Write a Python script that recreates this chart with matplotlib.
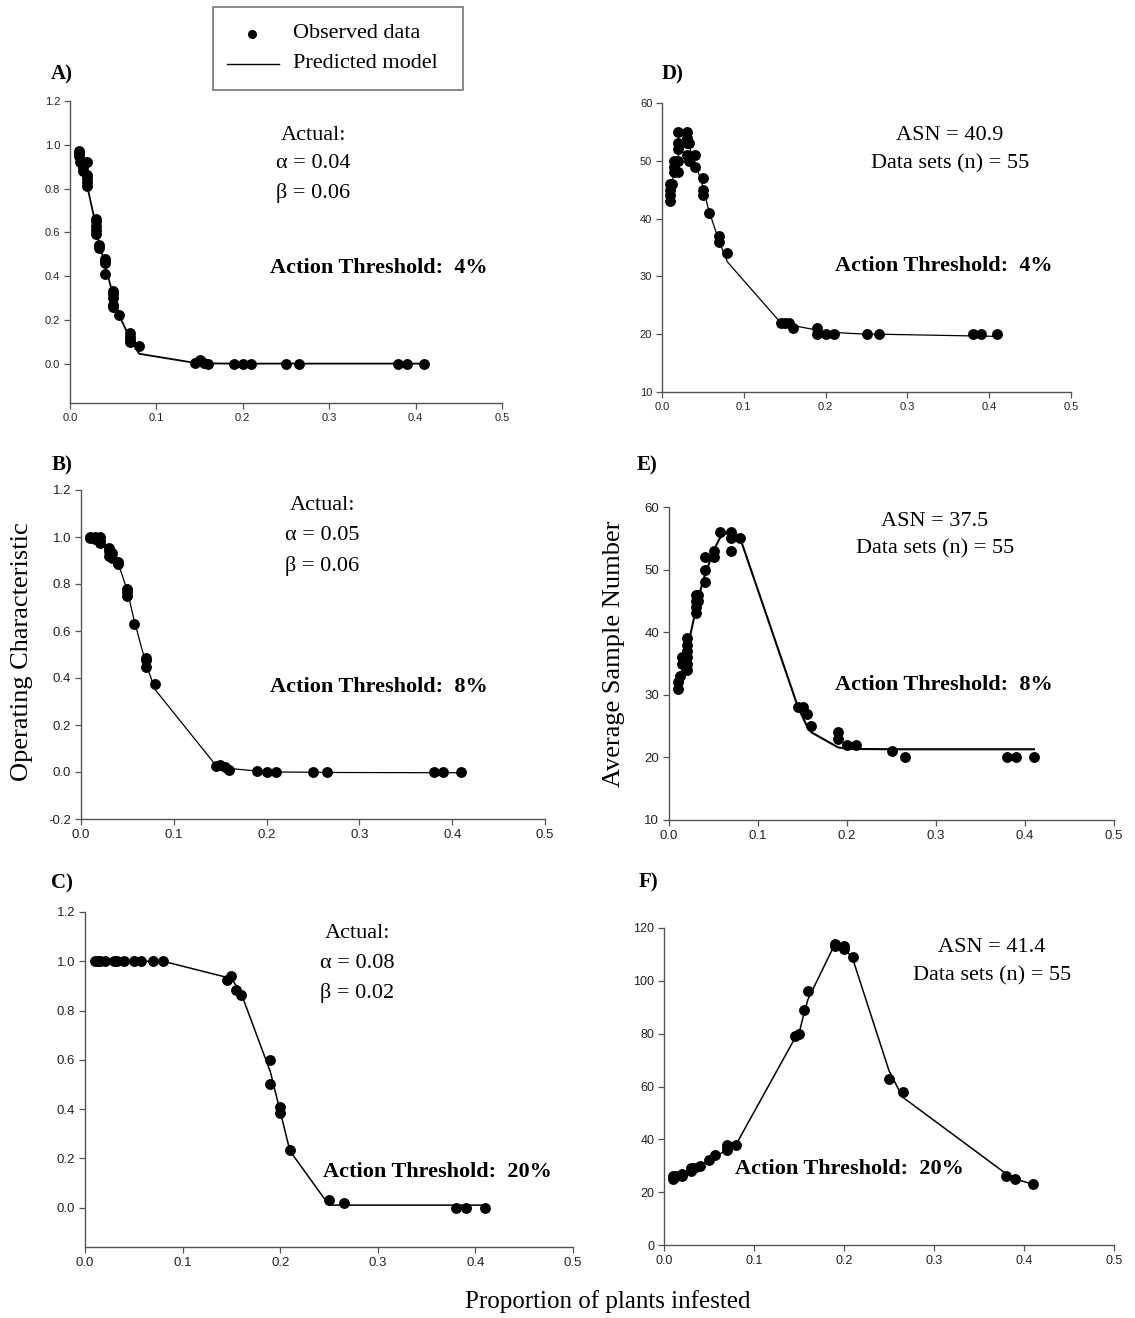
import matplotlib
matplotlib.use("Agg")
import matplotlib.pyplot as plt
from matplotlib.lines import Line2D
from matplotlib.patches import Rectangle

W, H = 1135, 1318

# x values of the model nodes (same for every panel)
x_model = [0.01, 0.015, 0.02, 0.03, 0.033, 0.04, 0.05, 0.057, 0.07, 0.08,
           0.145, 0.15, 0.155, 0.16, 0.19, 0.2, 0.21, 0.25, 0.265, 0.38, 0.39, 0.41]

# A) operating characteristic, threshold 4%
a_x = [0.01, 0.01, 0.01, 0.012, 0.015, 0.015, 0.015, 0.02, 0.02, 0.02, 0.02, 0.02,
       0.03, 0.03, 0.03, 0.03, 0.03, 0.033, 0.033, 0.04, 0.04, 0.04, 0.04,
       0.05, 0.05, 0.05, 0.05, 0.05, 0.057, 0.07, 0.07, 0.07, 0.07, 0.08,
       0.145, 0.15, 0.155, 0.16, 0.19, 0.2, 0.21, 0.25, 0.265, 0.38, 0.39, 0.41]
a_y = [0.97, 0.96, 0.95, 0.92, 0.92, 0.90, 0.88, 0.92, 0.86, 0.85, 0.83, 0.81,
       0.66, 0.65, 0.63, 0.61, 0.59, 0.54, 0.53, 0.48, 0.47, 0.46, 0.41,
       0.33, 0.32, 0.30, 0.27, 0.26, 0.22, 0.14, 0.12, 0.11, 0.10, 0.08,
       0.005, 0.015, 0.005, 0.0, 0.0, 0.0, 0.0, 0.0, 0.0, 0.0, 0.0, 0.0]
a_model = [0.97, 0.90, 0.81, 0.63, 0.56, 0.46, 0.31, 0.22, 0.11, 0.045,
           0.003, 0.002, 0.001, 0.001, 0.0, 0.0, 0.0, 0.0, 0.0, 0.0, 0.0, 0.0]

# B) operating characteristic, threshold 8%
b_x = [0.01, 0.01, 0.015, 0.015, 0.02, 0.02, 0.02, 0.03, 0.03, 0.03, 0.033, 0.033,
       0.04, 0.04, 0.05, 0.05, 0.05, 0.057, 0.07, 0.07, 0.07, 0.08,
       0.145, 0.15, 0.155, 0.16, 0.19, 0.2, 0.21, 0.25, 0.265, 0.38, 0.39, 0.41]
b_y = [1.0, 0.995, 1.0, 0.99, 1.0, 0.985, 0.975, 0.955, 0.94, 0.92, 0.93, 0.91,
       0.895, 0.885, 0.78, 0.765, 0.75, 0.63, 0.485, 0.475, 0.445, 0.375,
       0.025, 0.03, 0.02, 0.01, 0.005, 0.0, 0.0, 0.0, 0.0, 0.0, 0.0, 0.0]
b_model = [1.0, 0.995, 0.99, 0.95, 0.93, 0.89, 0.77, 0.65, 0.46, 0.35,
           0.03, 0.025, 0.02, 0.015, 0.004, 0.0, 0.0, -0.001, -0.002, -0.003, -0.003, -0.003]

# C) operating characteristic, threshold 20%
c_x = [0.01, 0.013, 0.015, 0.02, 0.03, 0.033, 0.04, 0.05, 0.057, 0.07, 0.08,
       0.145, 0.15, 0.155, 0.16, 0.19, 0.19, 0.2, 0.2, 0.21,
       0.25, 0.265, 0.38, 0.39, 0.41]
c_y = [1.0, 1.0, 1.0, 1.0, 1.0, 1.0, 1.0, 1.0, 1.0, 1.0, 1.0,
       0.925, 0.94, 0.885, 0.865, 0.6, 0.5, 0.41, 0.385, 0.235,
       0.03, 0.02, 0.0, 0.0, 0.0]
c_model = [1.0, 1.0, 1.0, 1.0, 1.0, 1.0, 1.0, 1.0, 1.0, 1.0,
           0.935, 0.93, 0.9, 0.87, 0.55, 0.39, 0.23, 0.01, 0.01, 0.01, 0.01, 0.01]

# D) average sample number, threshold 4%
d_x = [0.01, 0.01, 0.01, 0.01, 0.012, 0.015, 0.015, 0.015, 0.02, 0.02, 0.02, 0.02, 0.02,
       0.03, 0.03, 0.03, 0.03, 0.033, 0.033, 0.04, 0.04, 0.05, 0.05, 0.05, 0.057,
       0.07, 0.07, 0.08, 0.145, 0.15, 0.155, 0.16, 0.19, 0.19, 0.2, 0.21,
       0.25, 0.265, 0.38, 0.39, 0.41]
d_y = [46, 45, 44, 43, 46, 50, 49, 48, 55, 53, 52, 50, 48,
       55, 54, 53, 51, 53, 50, 51, 49, 47, 45, 44, 41,
       37, 36, 34, 22, 22, 22, 21, 21, 20, 20, 20,
       20, 20, 20, 20, 20]
d_model = [45, 48, 51, 53, 52.5, 50, 45.5, 41.5, 36, 32.5,
           22, 21.9, 21.7, 21.5, 20.7, 20.4, 20.3, 20.0, 20.0, 19.7, 19.7, 19.6]

# E) average sample number, threshold 8%
e_x = [0.01, 0.01, 0.012, 0.015, 0.015, 0.02, 0.02, 0.02, 0.02, 0.02, 0.02,
       0.03, 0.03, 0.03, 0.03, 0.033, 0.033, 0.04, 0.04, 0.04, 0.05, 0.05, 0.057,
       0.07, 0.07, 0.07, 0.08, 0.145, 0.15, 0.155, 0.16, 0.19, 0.19, 0.2, 0.21,
       0.25, 0.265, 0.38, 0.39, 0.41]
e_y = [32, 31, 33, 36, 35, 39, 38, 37, 36, 35, 34,
       46, 45, 44, 43, 46, 45, 52, 50, 48, 53, 52, 56,
       56, 55, 53, 55, 28, 28, 27, 25, 24, 23, 22, 22,
       21, 20, 20, 20, 20]
e_model = [31.5, 34, 37, 43.5, 45.5, 49, 53, 55, 56.5, 55,
           28, 26.5, 25, 24, 21.6, 21.4, 21.35, 21.3, 21.3, 21.3, 21.3, 21.3]

# F) average sample number, threshold 20%
f_x = [0.01, 0.01, 0.013, 0.02, 0.02, 0.03, 0.03, 0.033, 0.04, 0.05, 0.057,
       0.07, 0.07, 0.07, 0.08, 0.145, 0.15, 0.155, 0.16, 0.19, 0.19, 0.2, 0.2, 0.21,
       0.25, 0.265, 0.38, 0.39, 0.41]
f_y = [25, 26, 26, 26, 27, 28, 29, 29, 30, 32, 34,
       36, 37, 38, 38, 79, 80, 89, 96, 113, 114, 112, 113, 109,
       63, 58, 26, 25, 23]
f_model = [25, 26, 26.5, 28.5, 29, 30, 32, 33.5, 36, 38,
           78, 80, 87, 93, 114, 113, 108, 66, 56, 27, 25, 23]

x_ticks = [0.0, 0.1, 0.2, 0.3, 0.4, 0.5]

SERIF = "Liberation Serif"
SANS = "Liberation Sans"


def P(x, y):
    return x / W, 1 - y / H


def make_axes(fig, left, right, top, bottom):
    return fig.add_axes([left / W, 1 - bottom / H, (right - left) / W, (bottom - top) / H])


def style(ax, ylim, yticks, ylabels, fs):
    ax.set_xlim(0, 0.5)
    ax.set_ylim(*ylim)
    ax.set_xticks(x_ticks)
    ax.set_xticklabels([f"{t:.1f}" for t in x_ticks])
    ax.set_yticks(yticks)
    ax.set_yticklabels(ylabels)
    for s in ["top", "right"]:
        ax.spines[s].set_visible(False)
    for s in ["left", "bottom"]:
        ax.spines[s].set_color("#555555")
        ax.spines[s].set_linewidth(1.0)
    ax.tick_params(direction="out", length=4, width=0.9, color="#555555",
                   labelcolor="#222222", labelsize=fs, pad=3)
    for lab in ax.get_xticklabels() + ax.get_yticklabels():
        lab.set_fontfamily(SANS)
    ax.patch.set_alpha(0)


def draw(ax, xs, ys, model, lw=1.0):
    ax.plot(x_model, model, color="black", lw=lw, zorder=2)
    ax.plot(xs, ys, "o", color="black", ms=6.8, mec="black", zorder=3, clip_on=False)


fig = plt.figure(figsize=(W / 100, H / 100), dpi=100)

oc_ticks = [0.0, 0.2, 0.4, 0.6, 0.8, 1.0, 1.2]
oc_labels = [f"{t:.1f}" for t in oc_ticks]

axA = make_axes(fig, 70, 502, 101, 403)
style(axA, (-0.18, 1.2), oc_ticks, oc_labels, 8)
draw(axA, a_x, a_y, a_model, lw=1.3)

axB = make_axes(fig, 81, 545, 490, 819)
b_ticks = [-0.2] + oc_ticks
style(axB, (-0.2, 1.2), b_ticks, [f"{t:.1f}" for t in b_ticks], 9.5)
draw(axB, b_x, b_y, b_model, lw=0.9)

axC = make_axes(fig, 85, 573, 912, 1247)
style(axC, (-0.16, 1.2), oc_ticks, oc_labels, 9.5)
draw(axC, c_x, c_y, c_model, lw=1.1)

axD = make_axes(fig, 662, 1071, 103, 392)
d_ticks = [10, 20, 30, 40, 50, 60]
style(axD, (10, 60), d_ticks, [str(t) for t in d_ticks], 8)
draw(axD, d_x, d_y, d_model, lw=0.9)

axE = make_axes(fig, 669, 1114, 507, 820)
style(axE, (10, 60), d_ticks, [str(t) for t in d_ticks], 9.5)
draw(axE, e_x, e_y, e_model, lw=1.5)

axF = make_axes(fig, 664, 1114, 928, 1245)
f_ticks = [0, 20, 40, 60, 80, 100, 120]
style(axF, (0, 120), f_ticks, [str(t) for t in f_ticks], 9)
draw(axF, f_x, f_y, f_model, lw=1.1)

# panel letters
for lab, (px, py) in {"A)": (62, 74), "B)": (62, 465), "C)": (62, 883),
                      "D)": (673, 74), "E)": (647, 465), "F)": (648, 882)}.items():
    fig.text(*P(px, py), lab, family=SERIF, weight="bold", fontsize=15,
             ha="center", va="center")


# annotations, one text per line
def lines(px, ys, texts):
    for py, t in zip(ys, texts):
        fig.text(*P(px, py), t, family=SERIF, fontsize=16, ha="center", va="center")


def threshold(px, py, v):
    fig.text(*P(px, py), f"Action Threshold:  {v}%", family=SERIF, fontsize=16,
             weight="bold", ha="center", va="center")


lines(313, [135, 164, 193], ["Actual:", "α = 0.04", "β = 0.06"])
lines(322, [505, 536, 566], ["Actual:", "α = 0.05", "β = 0.06"])
lines(357, [933, 963, 993], ["Actual:", "α = 0.08", "β = 0.02"])
lines(950, [135, 164], ["ASN = 40.9", "Data sets (n) = 55"])
lines(935, [522, 549], ["ASN = 37.5", "Data sets (n) = 55"])
lines(992, [947, 976], ["ASN = 41.4", "Data sets (n) = 55"])
threshold(379, 268, 4)
threshold(379, 687, 8)
threshold(437, 1172, 20)
threshold(944, 266, 4)
threshold(944, 685, 8)
threshold(849, 1169, 20)

# axis titles
fig.text(*P(22, 652), "Operating Characteristic", family=SERIF, fontsize=19,
         rotation=90, ha="center", va="center")
fig.text(*P(614, 654), "Average Sample Number", family=SERIF, fontsize=19,
         rotation=90, ha="center", va="center")
fig.text(*P(608, 1302), "Proportion of plants infested", family=SERIF, fontsize=18,
         ha="center", va="center")

# legend box
x0, y0 = P(213, 90)
fig.patches.append(Rectangle((x0, y0), 250 / W, 83 / H, transform=fig.transFigure,
                             fill=False, edgecolor="#777777", lw=1.2))
fig.lines.append(Line2D([252 / W], [1 - 34 / H], marker="o", ms=5.5, color="black",
                        transform=fig.transFigure))
fig.lines.append(Line2D([227 / W, 279 / W], [1 - 64 / H, 1 - 64 / H], color="black",
                        lw=1.0, transform=fig.transFigure))
fig.text(*P(293, 34), "Observed data", family=SERIF, fontsize=16, ha="left", va="center")
fig.text(*P(293, 63), "Predicted model", family=SERIF, fontsize=16, ha="left", va="center")

fig.savefig("out.png", dpi=100)
